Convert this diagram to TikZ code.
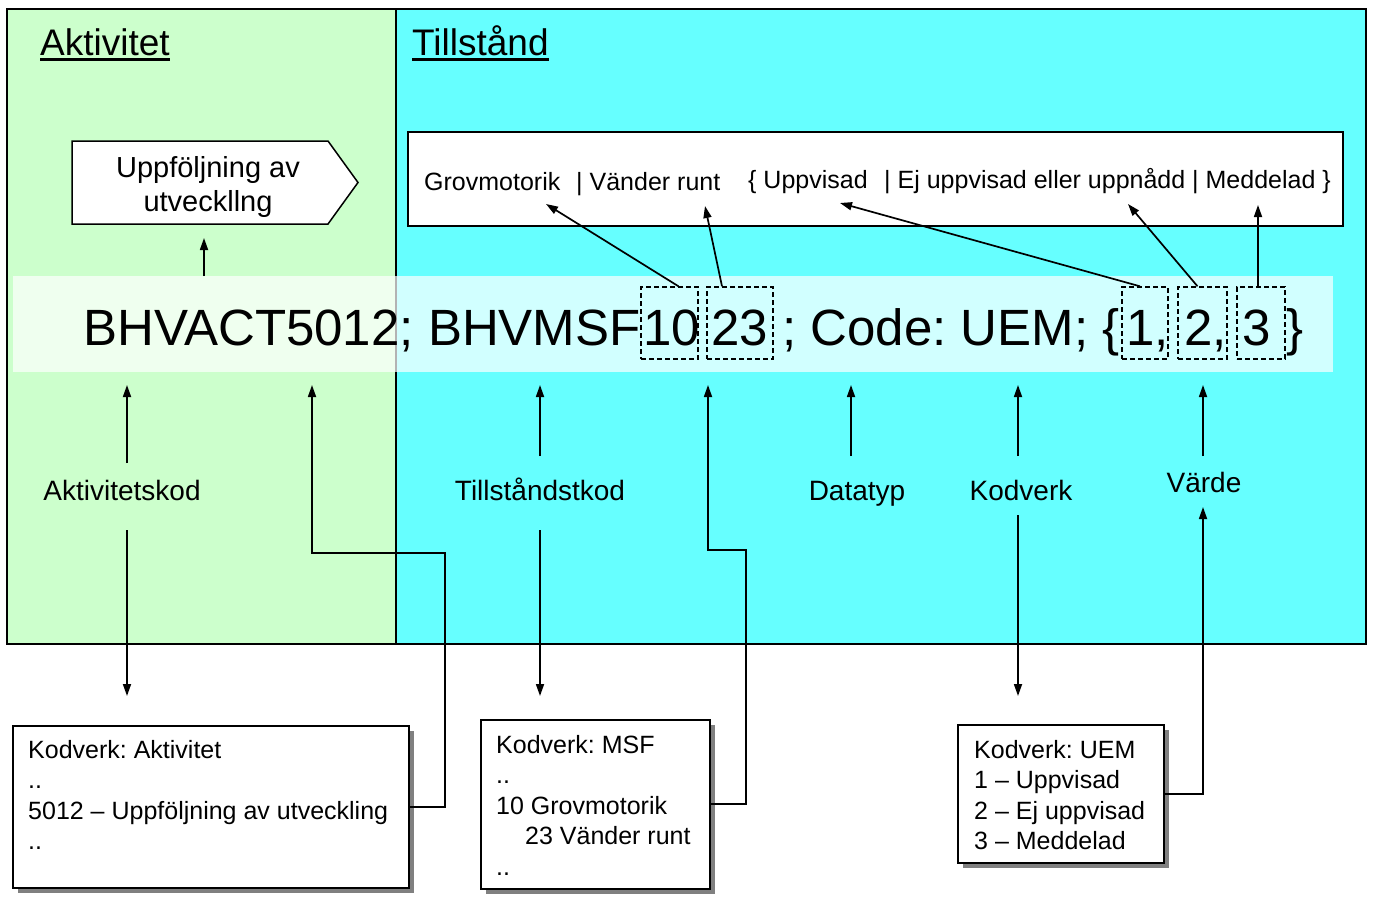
\documentclass[tikz,border=0pt]{standalone}
\usepackage{fontspec}
\setmainfont{Liberation Sans}
\usetikzlibrary{arrows.meta,shadows,calc}
\definecolor{pgreen}{HTML}{CCFFCC}
\definecolor{pcyan}{HTML}{66FFFF}
\frenchspacing
\begin{document}
\begin{tikzpicture}[x=1pt,y=-1pt,
  arr/.style={line width=1.7pt,-{Triangle[length=12pt,width=8pt]}},
  panel/.style={draw,line width=1.8pt},
  dbox/.style={draw,dash pattern=on 5pt off 3pt,line width=1.4pt,minimum width=#1,minimum height=72pt,inner sep=0},
  hdr/.style={font=\fontsize{37}{44}\selectfont,inner sep=0,anchor=base west},
  lbl/.style={font=\fontsize{28}{34}\selectfont,inner sep=0,anchor=base},
  big/.style={font=\fontsize{51}{60}\selectfont,inner sep=0,anchor=base west},
  ttxt/.style={font=\fontsize{25}{30}\selectfont,inner sep=0,anchor=base west},
  kbox/.style={draw,fill=white,line width=1.5pt,anchor=north west,inner sep=0,
    drop shadow={shadow xshift=5pt,shadow yshift=-5pt,fill=black!50,opacity=1}},
  ktext/.style={font=\fontsize{25}{30.5}\selectfont,align=left,anchor=north west,inner sep=0}]
\useasboundingbox (0,0) rectangle (1378,910);
\fill[white] (0,0) rectangle (1378,910);
% panels
\draw[panel,fill=pgreen] (7,9) rectangle (396,644);
\draw[panel,fill=pcyan] (396,9) rectangle (1366,644);
% headers
\node[hdr] (hA) at (40,55) {Aktivitet};
\draw[line width=2.4pt] ([yshift=-4.5]hA.base west) -- ([yshift=-4.5]hA.base east);
\node[hdr] (hT) at (412,55) {Tillstånd};
\draw[line width=2.4pt] ([yshift=-4.5]hT.base west) -- ([yshift=-4.5]hT.base east);
% activity pentagon
\draw[line width=1.5pt,fill=white] (72,141) -- (328,141) -- (358,182.5) -- (328,224) -- (72,224) -- cycle;
\node[font=\fontsize{29}{34}\selectfont,align=center,inner sep=0] (act) at (208,187) {Uppföljning av\\utveckllng};
% top box with values
\node[draw,fill=white,line width=1.5pt,minimum width=935,minimum height=94,anchor=north west,inner sep=0] (top) at (407,131) {};
\node[ttxt] (tg) at (424,190) {Grovmotorik};
\node[ttxt] (tv) at (576,190) {| Vänder runt};
\node[ttxt] (tu) at (748,188) {\{ Uppvisad};
\node[ttxt] (te) at (884,188) {| Ej uppvisad eller uppnådd | Meddelad \}};
% band
\fill[white,opacity=0.7] (13,276) rectangle (1333,372);
% big code text
\node[big] (c1) at (83,345) {BHVACT5012; BHVMSF};
\node[big] (c10) at (643,345) {10};
\node[big] (c23) at (711,345) {23};
\node[big] (c2) at (782,345) {; Code: UEM; \{};
\node[big] (cv1) at (1126,345) {1,};
\node[big] (cv2) at (1184,345) {2,};
\node[big] (cv3) at (1242,345) {3};
\node[big] (c3) at (1286,345) {\}};
\node[dbox=57] (d10) at (669.5,323) {};
\node[dbox=66] (d23) at (740,323) {};
\node[dbox=46] (d1) at (1145,323) {};
\node[dbox=49] (d2) at (1202.5,323) {};
\node[dbox=48] (d3) at (1261,323) {};
% arrows to the value box
\coordinate (tG) at (546,204);
\coordinate (tV) at (705,206);
\coordinate (tU) at (840,203);
\coordinate (tE) at (1128,204);
\coordinate (tM) at (1258,205);
\draw[arr] ([xshift=9]d10.north) -- (tG);
\draw[arr] ([xshift=-18]d23.north) -- (tV);
\draw[arr] ([xshift=-5]d1.north) -- (tU);
\draw[arr] ([xshift=-5]d2.north) -- (tE);
\draw[arr] ([xshift=-3]d3.north) -- (tM);
% arrow to activity
\coordinate (aB) at (204,276);
\coordinate (aT) at (204,238);
\draw[arr] (aB) -- (aT);
% labels
\node[lbl] (lA) at (122,500) {Aktivitetskod};
\node[lbl] (lT) at (540,500) {Tillståndstkod};
\node[lbl] (lD) at (857,500) {Datatyp};
\node[lbl] (lK) at (1021,500) {Kodverk};
\node[lbl] (lV) at (1204,492) {Värde};
% up arrows from labels
\coordinate (uA0) at (127,463); \coordinate (uA1) at (127,385);
\coordinate (uT0) at (540,456); \coordinate (uT1) at (540,385);
\coordinate (uD0) at (851,456); \coordinate (uD1) at (851,385);
\coordinate (uK0) at (1018,456); \coordinate (uK1) at (1018,385);
\coordinate (uV0) at (1203,456); \coordinate (uV1) at (1203,385);
\draw[arr] (uA0) -- (uA1);
\draw[arr] (uT0) -- (uT1);
\draw[arr] (uD0) -- (uD1);
\draw[arr] (uK0) -- (uK1);
\draw[arr] (uV0) -- (uV1);
% down arrows
\coordinate (dA0) at (127,530); \coordinate (dA1) at (127,696);
\coordinate (dT0) at (540,530); \coordinate (dT1) at (540,696);
\coordinate (dK0) at (1018,515); \coordinate (dK1) at (1018,696);
\draw[arr] (dA0) -- (dA1);
\draw[arr] (dT0) -- (dT1);
\draw[arr] (dK0) -- (dK1);
% code boxes
\node[kbox,minimum width=396,minimum height=162] (k1) at (12,725) {};
\node[ktext] (k1t) at (28,740) {Kodverk: Aktivitet\\..\\5012 – Uppföljning av utveckling\\..};
\node[kbox,minimum width=229,minimum height=169] (k2) at (480,719) {};
\node[ktext] (k2t) at (496,735) {Kodverk: MSF\\..\\10 Grovmotorik\\\hspace*{29pt}23 Vänder runt\\..};
\node[kbox,minimum width=206,minimum height=138] (k3) at (957,724) {};
\node[ktext] (k3t) at (974,740) {Kodverk: UEM\\1 – Uppvisad\\2 – Ej uppvisad\\3 – Meddelad};
% elbow connectors
\coordinate (p1) at (312,385);
\coordinate (p2) at (708,385);
\coordinate (p3) at (1203,507);
\draw[arr] (k1.east) -| (445,553) -| (p1);
\draw[arr] (k2.east) -| (746,550) -| (p2);
\draw[arr] (k3.east) -| (p3);
\end{tikzpicture}
\end{document}
